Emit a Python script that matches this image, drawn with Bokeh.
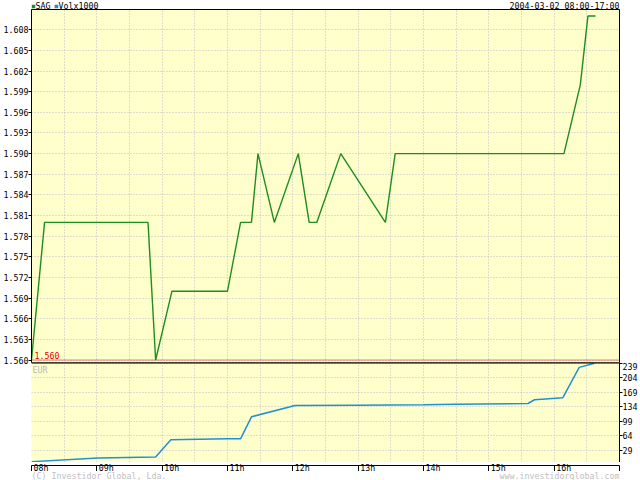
from bokeh.plotting import figure
from bokeh.layouts import column
from bokeh.models import (Range1d, FixedTicker, Label, Span, PrintfTickFormatter,
                          GlobalInlineStyleSheet)
from bokeh.embed import file_html
from bokeh.resources import INLINE
from bokeh.core.properties import value

# ---------------- data ----------------
price_times = ["08:00", "08:12", "09:47", "09:54", "10:09", "11:00", "11:12", "11:22",
               "11:28", "11:43", "12:05", "12:15", "12:22", "12:44", "13:25", "13:34",
               "16:09", "16:24", "16:31", "16:38"]
price_values = [1.560, 1.580, 1.580, 1.560, 1.570, 1.570, 1.580, 1.580,
                1.590, 1.580, 1.590, 1.580, 1.580, 1.590, 1.580, 1.590,
                1.590, 1.600, 1.610, 1.610]
vol_times = ["08:00", "09:01", "09:54", "10:08", "11:00", "11:12", "11:22", "12:02",
             "13:00", "14:00", "14:30", "15:36", "15:42", "16:08", "16:23", "16:37"]
vol_values = [2, 11, 13, 55, 57, 57, 110, 137, 138, 139, 140, 142, 151, 156, 229, 239]
price_ticks = [1.560, 1.563, 1.566, 1.569, 1.572, 1.575, 1.578, 1.581, 1.584,
               1.587, 1.590, 1.593, 1.596, 1.599, 1.602, 1.605, 1.608]
vol_ticks = [29, 64, 99, 134, 169, 204, 239]
hour_labels = ["08h", "09h", "10h", "11h", "12h", "13h", "14h", "15h", "16h"]
ref_price = 1.560
symbol = "SAG"
vol_name = "Volx1000"
currency = "EUR"
date_text = "2004-03-02 08:00-17:00"
copyright_text = "(C) Investidor Global, Lda."
site_text = "www.investidorglobal.com"


def to_h(s):
    hh, mm = s.split(":")
    return int(hh) + int(mm) / 60.0


px = [to_h(t) for t in price_times]
vx = [to_h(t) for t in vol_times]
hours = [int(h[:2]) for h in hour_labels]
half_hours = sorted(hours + [h + 0.5 for h in hours])

FONT = "DejaVu Sans Mono"
FS = "8.3px"
BG = "#FFFFCC"
GRID = "#bcbccc"
GREEN = "#1f8c1f"
BLUE = "#2290d0"

xr = Range1d(8, 17)


def strip(height, margin_top):
    s = figure(width=640, height=height, x_range=xr, y_range=Range1d(0, height),
               x_axis_location=None, y_axis_location=None,
               toolbar_location=None, output_backend="svg",
               min_border_left=28, min_border_right=18, min_border_top=0, min_border_bottom=0,
               background_fill_color=None, background_fill_alpha=0,
               border_fill_color=None, border_fill_alpha=0,
               outline_line_color=None, styles={"margin-top": margin_top})
    s.xgrid.visible = False
    s.ygrid.visible = False
    return s


txt_kw = dict(text_font=value(FONT), text_font_size=FS, text_baseline="middle")

# ---------------- top legend strip (page y 0..16, overlapped by price panel) ----------
top = strip(16, "0px")
ty = [11]
top.text(x=[8], y=ty, text=["\u25a0"], x_offset=0, text_color=GREEN,
         text_font=value(FONT), text_font_size="6px", text_baseline="middle")
top.text(x=[8], y=ty, text=[symbol], x_offset=4, text_color="black", **txt_kw)
top.text(x=[8], y=ty, text=["\u25a0"], x_offset=23, text_color=BLUE,
         text_font=value(FONT), text_font_size="6px", text_baseline="middle")
top.text(x=[8], y=ty, text=[vol_name], x_offset=27, text_color="black", **txt_kw)
top.text(x=[17], y=ty, text=[date_text], text_align="right", text_color="black", **txt_kw)

# ---------------- price panel ----------------
p_lo, p_hi = 1.559637, 1.610952
p1 = figure(width=640, height=357, x_range=xr, y_range=Range1d(p_lo, p_hi),
            x_axis_location=None, toolbar_location=None, output_backend="svg",
            min_border_left=28, min_border_right=18, min_border_top=0, min_border_bottom=4,
            background_fill_color=BG, border_fill_color=None, border_fill_alpha=0,
            outline_line_color="black", outline_line_width=1,
            styles={"margin-top": "-7px"})
ax = p1.yaxis[0]
ax.ticker = FixedTicker(ticks=price_ticks)
ax.formatter = PrintfTickFormatter(format="%.3f")
ax.major_tick_out = 3
ax.major_tick_in = 0
ax.minor_tick_out = 0
ax.minor_tick_in = 0
ax.major_label_standoff = 0
ax.major_label_text_font = FONT
ax.major_label_text_font_size = FS
ax.major_label_text_color = "black"
ax.axis_line_color = "black"
ax.major_tick_line_color = "black"
p1.xgrid.ticker = FixedTicker(ticks=half_hours)
for g in (p1.xgrid[0], p1.ygrid[0]):
    g.grid_line_color = GRID
    g.grid_line_dash = "1 2"
    g.grid_line_width = 1

p1.add_layout(Span(location=ref_price, dimension="width", line_color="#dd0000",
                   line_dash="1 1", line_width=1))
p1.line(px, price_values, line_color=GREEN, line_width=1.4)
p1.add_layout(Label(x=8, y=ref_price, text="1.560", x_offset=3, y_offset=1,
                    text_color="#ee0000", text_font=FONT, text_font_size=FS,
                    text_baseline="bottom"))

# ---------------- volume panel ----------------
v_hi = 240.7
p2 = figure(width=640, height=100, x_range=xr, y_range=Range1d(0, v_hi),
            x_axis_location=None, y_axis_location="right",
            toolbar_location=None, output_backend="svg",
            min_border_left=28, min_border_right=18, min_border_top=0, min_border_bottom=0,
            background_fill_color=BG, border_fill_color=None, border_fill_alpha=0,
            outline_line_color=None, styles={"margin-top": "-4px"})
ax2 = p2.yaxis[0]
ax2.ticker = FixedTicker(ticks=vol_ticks)
ax2.major_tick_out = 3
ax2.major_tick_in = 0
ax2.minor_tick_out = 0
ax2.minor_tick_in = 0
ax2.major_label_standoff = 0
ax2.major_label_text_font = FONT
ax2.major_label_text_font_size = FS
ax2.major_label_text_color = "black"
ax2.axis_line_color = "black"
p2.xgrid.ticker = FixedTicker(ticks=half_hours)
for g in (p2.xgrid[0], p2.ygrid[0]):
    g.grid_line_color = GRID
    g.grid_line_dash = "1 2"
    g.grid_line_width = 1
p2.add_layout(Span(location=v_hi, dimension="width", line_color="black", line_width=2))
p2.line(vx, vol_values, line_color=BLUE, line_width=1.5)
p2.add_layout(Label(x=8, y=v_hi, text=currency, x_offset=1, y_offset=-2,
                    text_color="#b8b8b8", text_font=FONT, text_font_size=FS,
                    text_baseline="top"))

# ---------------- time axis band (page y 462..471) ----------------
p3 = figure(width=640, height=9, x_range=xr, y_range=Range1d(0, 1),
            x_axis_location=None, y_axis_location=None,
            toolbar_location=None, output_backend="svg",
            min_border_left=28, min_border_right=18, min_border_top=0, min_border_bottom=0,
            background_fill_color="white", border_fill_color=None, border_fill_alpha=0,
            outline_line_color="black")
p3.xgrid.ticker = FixedTicker(ticks=hours)
p3.xgrid.grid_line_color = "black"
p3.xgrid.grid_line_width = 1
p3.ygrid.visible = False

# ---------------- labels strip over the band + credits (page y 460..480) ----------
bot = strip(20, "-11px")
bot.text(x=hours, y=[13] * len(hours), text=hour_labels, x_offset=2,
         text_align="left", text_color="black", **txt_kw)
bot.text(x=[8], y=[4.3], text=[copyright_text], text_color="#c0c0c0", **txt_kw)
bot.text(x=[17], y=[4.3], text=[site_text], text_align="right", text_color="#c0c0c0",
         **txt_kw)

layout = column(top, p1, p2, p3, bot, spacing=0)
layout.stylesheets = [GlobalInlineStyleSheet(
    css="html, body { margin: 0 !important; padding: 0 !important; overflow: hidden; }")]

open("out.html", "w").write(file_html(layout, INLINE))
